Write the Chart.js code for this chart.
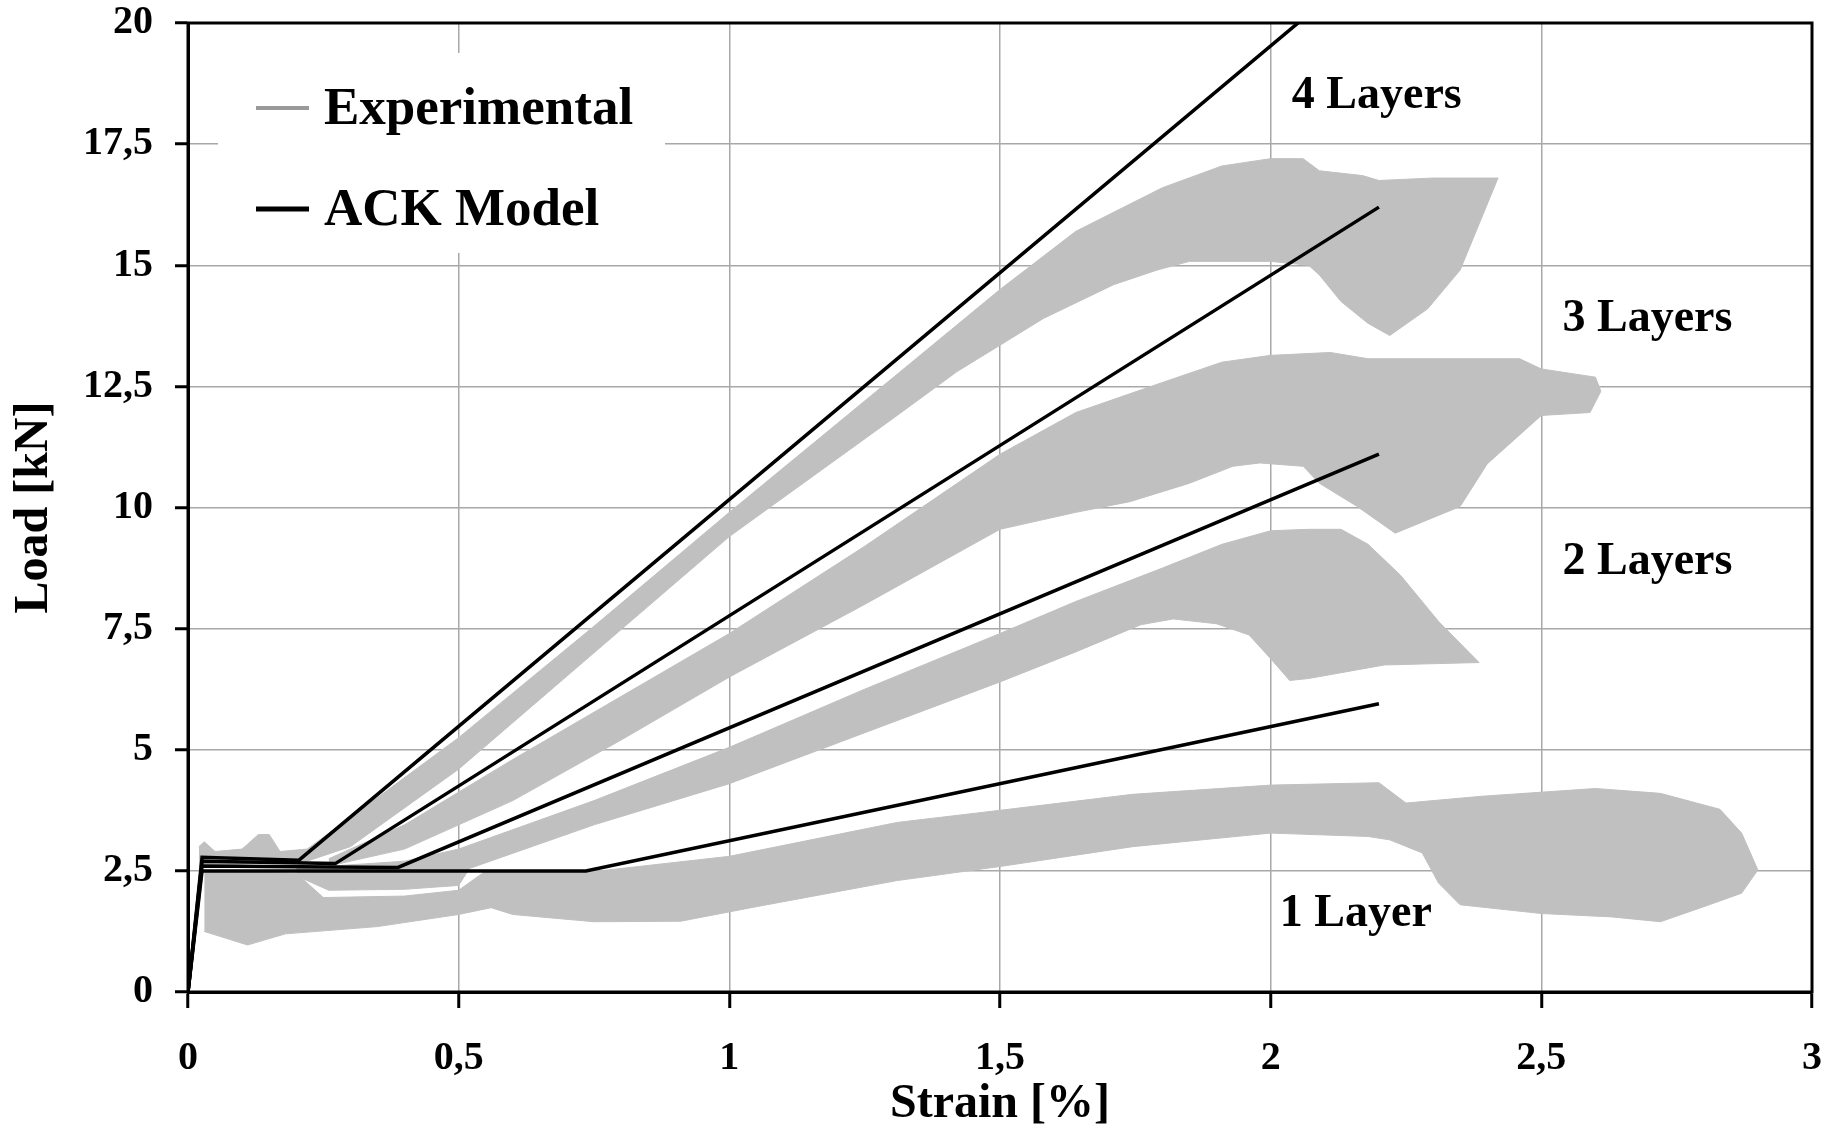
<!DOCTYPE html>
<html>
<head>
<meta charset="utf-8">
<title>Load - Strain</title>
<script src="https://cdn.jsdelivr.net/npm/chart.js@4.4.1/dist/chart.umd.min.js"></script>
<style>
  html, body { margin: 0; padding: 0; background: #fff; }
</style>
</head>
<body>
<canvas id="loadChart" width="1845" height="1131"></canvas>
<script>
// ACK model, [strain %, load kN]
const ack1 = [[0, 0], [0.026, 2.5], [0.735, 2.5], [2.2, 5.95]];
const ack2 = [[0, 0], [0.026, 2.6], [0.388, 2.57], [2.2, 11.1]];
const ack3 = [[0, 0], [0.026, 2.7], [0.272, 2.65], [2.2, 16.2]];
const ack4 = [[0, 0], [0.026, 2.78], [0.205, 2.72], [2.2, 21.4]];

// experimental scatter bands, upper and lower envelope
const exp1Upper = [[0.03, 2.5], [0.2, 2.45], [0.25, 1.95], [0.4, 1.98], [0.5, 2.1], [0.55, 2.5], [0.76, 2.5], [1.0, 2.8], [1.31, 3.5], [1.5, 3.75], [1.745, 4.08], [2.0, 4.27], [2.2, 4.32], [2.25, 3.9], [2.39, 4.04], [2.6, 4.2], [2.72, 4.1], [2.83, 3.77], [2.87, 3.28], [2.9, 2.52]];
const exp1Lower = [[0.03, 1.25], [0.11, 0.97], [0.18, 1.2], [0.35, 1.35], [0.5, 1.6], [0.56, 1.74], [0.6, 1.6], [0.75, 1.45], [0.91, 1.46], [1.04, 1.74], [1.31, 2.3], [1.5, 2.59], [1.745, 3.0], [2.0, 3.28], [2.18, 3.21], [2.22, 3.14], [2.28, 2.87], [2.31, 2.25], [2.35, 1.8], [2.5, 1.62], [2.63, 1.55], [2.72, 1.45], [2.8, 1.76], [2.87, 2.04], [2.9, 2.52]];

const exp2Upper = [[0.2, 2.55], [0.4, 2.7], [0.5, 2.95], [0.75, 3.95], [1.0, 5.05], [1.25, 6.25], [1.5, 7.4], [1.64, 8.06], [1.8, 8.75], [1.91, 9.24], [2.0, 9.52], [2.07, 9.55], [2.13, 9.55], [2.18, 9.24], [2.24, 8.6], [2.31, 7.65], [2.385, 6.8]];
const exp2Lower = [[0.2, 2.4], [0.26, 2.1], [0.4, 2.12], [0.5, 2.2], [0.52, 2.55], [0.75, 3.45], [1.0, 4.3], [1.25, 5.35], [1.5, 6.4], [1.64, 7.02], [1.76, 7.58], [1.82, 7.7], [1.9, 7.6], [1.96, 7.37], [2.0, 6.88], [2.035, 6.43], [2.07, 6.47], [2.21, 6.75], [2.385, 6.8]];

const exp3Upper = [[0.26, 2.75], [0.4, 3.45], [0.6, 4.8], [0.8, 6.1], [1.0, 7.4], [1.25, 9.2], [1.5, 11.1], [1.64, 11.96], [1.8, 12.58], [1.91, 13.0], [2.0, 13.14], [2.11, 13.2], [2.18, 13.07], [2.46, 13.07], [2.5, 12.86], [2.6, 12.69], [2.61, 12.4]];
const exp3Lower = [[0.26, 2.6], [0.4, 2.95], [0.6, 3.95], [0.8, 5.2], [1.0, 6.5], [1.25, 8.0], [1.5, 9.55], [1.64, 9.9], [1.74, 10.12], [1.85, 10.5], [1.93, 10.85], [1.98, 10.92], [2.06, 10.85], [2.09, 10.5], [2.16, 10.02], [2.23, 9.47], [2.35, 10.02], [2.4, 10.9], [2.48, 11.7], [2.5, 11.9], [2.59, 11.96], [2.61, 12.4]];

const exp4Upper = [[0.02, 3.0], [0.03, 3.1], [0.05, 2.9], [0.1, 2.95], [0.13, 3.25], [0.15, 3.25], [0.17, 2.9], [0.22, 2.95], [0.3, 3.6], [0.5, 5.25], [0.75, 7.55], [1.0, 9.9], [1.31, 12.75], [1.5, 14.5], [1.64, 15.7], [1.8, 16.6], [1.91, 17.05], [2.0, 17.2], [2.06, 17.2], [2.09, 16.95], [2.17, 16.85], [2.2, 16.75], [2.3, 16.8], [2.42, 16.8]];
const exp4Lower = [[0.02, 2.6], [0.22, 2.7], [0.3, 3.0], [0.5, 4.6], [0.75, 7.0], [1.0, 9.4], [1.31, 11.9], [1.42, 12.8], [1.5, 13.35], [1.58, 13.9], [1.71, 14.6], [1.79, 14.9], [1.85, 15.08], [2.0, 15.08], [2.07, 15.0], [2.09, 14.8], [2.13, 14.25], [2.18, 13.8], [2.22, 13.55], [2.29, 14.1], [2.35, 14.9], [2.42, 16.8]];

const layerNames = ['1 Layer', '2 Layers', '3 Layers', '4 Layers'];
const legendNames = ['Experimental', 'ACK Model'];

const bandGray = '#c0c0c0';
const serif = '"Liberation Serif", "Times New Roman", serif';

// where the layer names sit, in data units (left edge, middle)
const layerLabelAt = [[2.017, 1.6], [2.539, 8.87], [2.539, 13.88], [2.039, 18.49]];

function ackSet(data) {
    return {
        data: data,
        showLine: true,
        borderColor: '#000',
        borderWidth: 3.5,
        pointRadius: 0,
        fill: false
    };
}

function bandSet(data, fillTo) {
    return {
        data: data,
        showLine: true,
        borderColor: bandGray,
        backgroundColor: bandGray,
        borderWidth: 1,
        pointRadius: 0,
        fill: fillTo
    };
}

const decimalComma = v => String(v).replace('.', ',');

const overlay = {
    id: 'overlay',
    afterDatasetsDraw(chart) {
        const { ctx, chartArea: a, scales } = chart;
        ctx.save();

        // legend
        ctx.fillStyle = '#fff';
        ctx.fillRect(a.left + 30, a.top + 30, 447, 200);
        ctx.lineCap = 'butt';
        ctx.strokeStyle = '#9a9a9a';
        ctx.lineWidth = 4;
        ctx.beginPath();
        ctx.moveTo(a.left + 68, a.top + 85);
        ctx.lineTo(a.left + 121, a.top + 85);
        ctx.stroke();
        ctx.strokeStyle = '#000';
        ctx.lineWidth = 5;
        ctx.beginPath();
        ctx.moveTo(a.left + 68, a.top + 186);
        ctx.lineTo(a.left + 121, a.top + 186);
        ctx.stroke();
        ctx.fillStyle = '#000';
        ctx.font = 'bold 53px ' + serif;
        ctx.textAlign = 'left';
        ctx.textBaseline = 'middle';
        ctx.fillText(legendNames[0], a.left + 136, a.top + 87);
        ctx.fillText(legendNames[1], a.left + 136, a.top + 188);

        // layer names
        ctx.font = 'bold 46px ' + serif;
        layerNames.forEach((name, i) => {
            const px = scales.x.getPixelForValue(layerLabelAt[i][0]);
            const py = scales.y.getPixelForValue(layerLabelAt[i][1]);
            ctx.fillText(name, px, py);
        });
        ctx.restore();
    },
    afterDraw(chart) {
        const { ctx, chartArea: a } = chart;
        ctx.save();
        ctx.strokeStyle = '#000';
        ctx.lineWidth = 3;
        ctx.strokeRect(a.left, a.top, a.right - a.left, a.bottom - a.top);
        ctx.restore();
    }
};

new Chart(document.getElementById('loadChart'), {
    type: 'scatter',
    data: {
        datasets: [
            ackSet(ack1),
            ackSet(ack2),
            ackSet(ack3),
            ackSet(ack4),
            bandSet(exp1Upper, false),
            bandSet(exp1Lower, '-1'),
            bandSet(exp2Upper, false),
            bandSet(exp2Lower, '-1'),
            bandSet(exp3Upper, false),
            bandSet(exp3Lower, '-1'),
            bandSet(exp4Upper, false),
            bandSet(exp4Lower, '-1')
        ]
    },
    options: {
        responsive: false,
        animation: false,
        layout: {
            padding: { top: 23, right: 33, left: 0, bottom: 0 }
        },
        plugins: {
            legend: { display: false },
            tooltip: { enabled: false }
        },
        scales: {
            x: {
                type: 'linear',
                min: 0,
                max: 3,
                afterFit(scale) {
                    scale.height = 139;
                    scale.paddingLeft = 0;
                    scale.paddingRight = 0;
                },
                ticks: {
                    stepSize: 0.5,
                    padding: 31,
                    color: '#000',
                    font: { family: serif, size: 40, weight: 'bold', lineHeight: 1 },
                    callback: decimalComma
                },
                grid: {
                    color: '#a8a8a8',
                    lineWidth: 1.5,
                    tickColor: '#000',
                    tickLength: 16,
                    tickWidth: 3
                },
                border: { display: true, color: '#000', width: 3 },
                title: {
                    display: true,
                    text: 'Strain [%]',
                    color: '#000',
                    font: { family: serif, size: 48, weight: 'bold', lineHeight: 1 },
                    padding: { top: 0, bottom: 2 }
                }
            },
            y: {
                type: 'linear',
                min: 0,
                max: 20,
                afterFit(scale) {
                    scale.width = 188;
                    scale.paddingTop = 0;
                    scale.paddingBottom = 0;
                },
                ticks: {
                    stepSize: 2.5,
                    padding: 22,
                    color: '#000',
                    font: { family: serif, size: 40, weight: 'bold', lineHeight: 1 },
                    callback: decimalComma
                },
                grid: {
                    color: '#a8a8a8',
                    lineWidth: 1.5,
                    tickColor: '#000',
                    tickLength: 13,
                    tickWidth: 3
                },
                border: { display: true, color: '#000', width: 3 },
                title: {
                    display: true,
                    text: 'Load [kN]',
                    color: '#000',
                    font: { family: serif, size: 48, weight: 'bold', lineHeight: 1 },
                    padding: { top: 11, bottom: 0 }
                }
            }
        }
    },
    plugins: [overlay]
});
</script>
</body>
</html>
